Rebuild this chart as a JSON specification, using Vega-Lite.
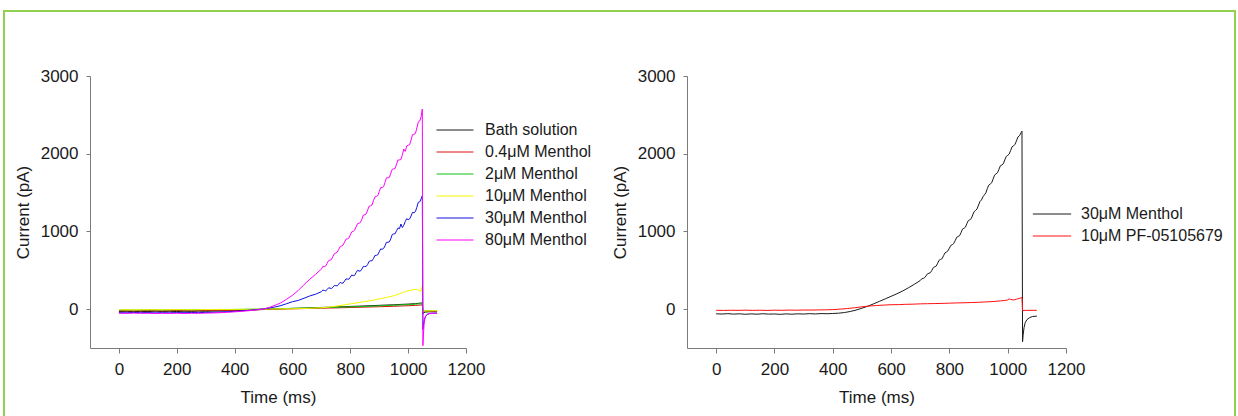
{
  "$schema": "https://vega.github.io/schema/vega-lite/v6.json",
  "width": 1231,
  "height": 410,
  "autosize": {"type": "none"},
  "padding": {"left": 4, "top": 11, "right": 3, "bottom": 0},
  "background": "white",
  "config": {
    "view": {"stroke": "#92D050", "strokeWidth": 2},
    "font": "Liberation Sans",
    "axis": {
      "grid": false,
      "domainColor": "#7a7a7a",
      "tickColor": "#7a7a7a",
      "domainWidth": 1,
      "tickWidth": 1,
      "labelFont": "Liberation Sans",
      "titleFont": "Liberation Sans",
      "labelFontSize": 17,
      "titleFontSize": 17,
      "titleFontWeight": "normal",
      "labelColor": "#1a1a1a",
      "titleColor": "#1a1a1a",
      "labelFlush": false,
      "labelOverlap": false,
      "format": "d"
    },
    "legend": {
      "labelFont": "Liberation Sans",
      "labelFontSize": 16,
      "labelColor": "#1a1a1a",
      "symbolType": "stroke",
      "symbolStrokeWidth": 1,
      "padding": 0,
      "rowPadding": 6,
      "clipHeight": 16,
      "title": null
    }
  },
  "datasets": {
    "left": [
      {"s":"Bath solution","t":0,"v":-30},{"s":"Bath solution","t":25,"v":-28},{"s":"Bath solution","t":50,"v":-32},{"s":"Bath solution","t":75,"v":-29},{"s":"Bath solution","t":100,"v":-31},{"s":"Bath solution","t":125,"v":-27},{"s":"Bath solution","t":150,"v":-30},{"s":"Bath solution","t":175,"v":-28},{"s":"Bath solution","t":200,"v":-31},{"s":"Bath solution","t":225,"v":-27},{"s":"Bath solution","t":250,"v":-29},{"s":"Bath solution","t":275,"v":-26},{"s":"Bath solution","t":300,"v":-28},{"s":"Bath solution","t":325,"v":-25},{"s":"Bath solution","t":350,"v":-24},{"s":"Bath solution","t":375,"v":-22},{"s":"Bath solution","t":400,"v":-20},{"s":"Bath solution","t":425,"v":-16},{"s":"Bath solution","t":450,"v":-12},{"s":"Bath solution","t":475,"v":-8},{"s":"Bath solution","t":500,"v":-4},{"s":"Bath solution","t":525,"v":0},{"s":"Bath solution","t":550,"v":3},{"s":"Bath solution","t":575,"v":7},{"s":"Bath solution","t":600,"v":10},{"s":"Bath solution","t":625,"v":12},{"s":"Bath solution","t":650,"v":15},{"s":"Bath solution","t":675,"v":19},{"s":"Bath solution","t":700,"v":22},{"s":"Bath solution","t":725,"v":24},{"s":"Bath solution","t":750,"v":28},{"s":"Bath solution","t":775,"v":31},{"s":"Bath solution","t":800,"v":35},{"s":"Bath solution","t":825,"v":38},{"s":"Bath solution","t":850,"v":42},{"s":"Bath solution","t":875,"v":45},{"s":"Bath solution","t":900,"v":49},{"s":"Bath solution","t":925,"v":53},{"s":"Bath solution","t":950,"v":56},{"s":"Bath solution","t":975,"v":61},{"s":"Bath solution","t":1000,"v":65},{"s":"Bath solution","t":1025,"v":71},{"s":"Bath solution","t":1049,"v":80},{"s":"Bath solution","t":1051,"v":-60},{"s":"Bath solution","t":1055,"v":-45},{"s":"Bath solution","t":1060,"v":-38},{"s":"Bath solution","t":1070,"v":-35},{"s":"Bath solution","t":1085,"v":-33},{"s":"Bath solution","t":1100,"v":-32},
      {"s":"0.4μM Menthol","t":0,"v":-20},{"s":"0.4μM Menthol","t":50,"v":-22},{"s":"0.4μM Menthol","t":100,"v":-19},{"s":"0.4μM Menthol","t":150,"v":-21},{"s":"0.4μM Menthol","t":200,"v":-18},{"s":"0.4μM Menthol","t":250,"v":-20},{"s":"0.4μM Menthol","t":300,"v":-17},{"s":"0.4μM Menthol","t":350,"v":-16},{"s":"0.4μM Menthol","t":400,"v":-14},{"s":"0.4μM Menthol","t":450,"v":-10},{"s":"0.4μM Menthol","t":500,"v":-5},{"s":"0.4μM Menthol","t":550,"v":0},{"s":"0.4μM Menthol","t":600,"v":4},{"s":"0.4μM Menthol","t":650,"v":8},{"s":"0.4μM Menthol","t":700,"v":12},{"s":"0.4μM Menthol","t":750,"v":16},{"s":"0.4μM Menthol","t":800,"v":21},{"s":"0.4μM Menthol","t":850,"v":26},{"s":"0.4μM Menthol","t":900,"v":31},{"s":"0.4μM Menthol","t":950,"v":37},{"s":"0.4μM Menthol","t":1000,"v":44},{"s":"0.4μM Menthol","t":1025,"v":48},{"s":"0.4μM Menthol","t":1049,"v":55},{"s":"0.4μM Menthol","t":1051,"v":-40},{"s":"0.4μM Menthol","t":1055,"v":-32},{"s":"0.4μM Menthol","t":1065,"v":-28},{"s":"0.4μM Menthol","t":1100,"v":-26},
      {"s":"2μM Menthol","t":0,"v":-10},{"s":"2μM Menthol","t":50,"v":-12},{"s":"2μM Menthol","t":100,"v":-9},{"s":"2μM Menthol","t":150,"v":-11},{"s":"2μM Menthol","t":200,"v":-8},{"s":"2μM Menthol","t":250,"v":-10},{"s":"2μM Menthol","t":300,"v":-7},{"s":"2μM Menthol","t":350,"v":-6},{"s":"2μM Menthol","t":400,"v":-4},{"s":"2μM Menthol","t":450,"v":-1},{"s":"2μM Menthol","t":500,"v":2},{"s":"2μM Menthol","t":550,"v":6},{"s":"2μM Menthol","t":600,"v":10},{"s":"2μM Menthol","t":650,"v":14},{"s":"2μM Menthol","t":700,"v":19},{"s":"2μM Menthol","t":750,"v":24},{"s":"2μM Menthol","t":800,"v":29},{"s":"2μM Menthol","t":850,"v":35},{"s":"2μM Menthol","t":900,"v":42},{"s":"2μM Menthol","t":950,"v":50},{"s":"2μM Menthol","t":1000,"v":58},{"s":"2μM Menthol","t":1025,"v":64},{"s":"2μM Menthol","t":1049,"v":72},{"s":"2μM Menthol","t":1051,"v":-30},{"s":"2μM Menthol","t":1055,"v":-24},{"s":"2μM Menthol","t":1065,"v":-21},{"s":"2μM Menthol","t":1100,"v":-20},
      {"s":"10μM Menthol","t":0,"v":-8},{"s":"10μM Menthol","t":50,"v":-10},{"s":"10μM Menthol","t":100,"v":-7},{"s":"10μM Menthol","t":150,"v":-9},{"s":"10μM Menthol","t":200,"v":-6},{"s":"10μM Menthol","t":250,"v":-8},{"s":"10μM Menthol","t":300,"v":-5},{"s":"10μM Menthol","t":350,"v":-4},{"s":"10μM Menthol","t":400,"v":-3},{"s":"10μM Menthol","t":450,"v":-1},{"s":"10μM Menthol","t":500,"v":1},{"s":"10μM Menthol","t":550,"v":3},{"s":"10μM Menthol","t":600,"v":5},{"s":"10μM Menthol","t":650,"v":9},{"s":"10μM Menthol","t":700,"v":18},{"s":"10μM Menthol","t":725,"v":26},{"s":"10μM Menthol","t":750,"v":38},{"s":"10μM Menthol","t":775,"v":52},{"s":"10μM Menthol","t":800,"v":68},{"s":"10μM Menthol","t":825,"v":82},{"s":"10μM Menthol","t":850,"v":98},{"s":"10μM Menthol","t":875,"v":112},{"s":"10μM Menthol","t":900,"v":132},{"s":"10μM Menthol","t":925,"v":150},{"s":"10μM Menthol","t":950,"v":172},{"s":"10μM Menthol","t":965,"v":190},{"s":"10μM Menthol","t":980,"v":212},{"s":"10μM Menthol","t":990,"v":222},{"s":"10μM Menthol","t":1000,"v":236},{"s":"10μM Menthol","t":1010,"v":244},{"s":"10μM Menthol","t":1020,"v":252},{"s":"10μM Menthol","t":1030,"v":256},{"s":"10μM Menthol","t":1038,"v":240},{"s":"10μM Menthol","t":1044,"v":228},{"s":"10μM Menthol","t":1049,"v":300},{"s":"10μM Menthol","t":1051,"v":-35},{"s":"10μM Menthol","t":1055,"v":-25},{"s":"10μM Menthol","t":1065,"v":-22},{"s":"10μM Menthol","t":1100,"v":-20},
      {"s":"30μM Menthol","t":0,"v":-45},{"s":"30μM Menthol","t":25,"v":-47},{"s":"30μM Menthol","t":50,"v":-43},{"s":"30μM Menthol","t":75,"v":-46},{"s":"30μM Menthol","t":100,"v":-44},{"s":"30μM Menthol","t":125,"v":-48},{"s":"30μM Menthol","t":150,"v":-45},{"s":"30μM Menthol","t":175,"v":-47},{"s":"30μM Menthol","t":200,"v":-44},{"s":"30μM Menthol","t":225,"v":-46},{"s":"30μM Menthol","t":250,"v":-43},{"s":"30μM Menthol","t":275,"v":-45},{"s":"30μM Menthol","t":300,"v":-42},{"s":"30μM Menthol","t":325,"v":-40},{"s":"30μM Menthol","t":350,"v":-37},{"s":"30μM Menthol","t":375,"v":-33},{"s":"30μM Menthol","t":400,"v":-28},{"s":"30μM Menthol","t":425,"v":-22},{"s":"30μM Menthol","t":450,"v":-14},{"s":"30μM Menthol","t":475,"v":-6},{"s":"30μM Menthol","t":500,"v":4},{"s":"30μM Menthol","t":520,"v":14},{"s":"30μM Menthol","t":540,"v":28},{"s":"30μM Menthol","t":560,"v":46},{"s":"30μM Menthol","t":580,"v":70},{"s":"30μM Menthol","t":600,"v":96},{"s":"30μM Menthol","t":620,"v":112},{"s":"30μM Menthol","t":640,"v":140},{"s":"30μM Menthol","t":660,"v":170},{"s":"30μM Menthol","t":680,"v":192},{"s":"30μM Menthol","t":700,"v":225},{"s":"30μM Menthol","t":705,"v":245},{"s":"30μM Menthol","t":710,"v":240},{"s":"30μM Menthol","t":715,"v":236},{"s":"30μM Menthol","t":720,"v":252},{"s":"30μM Menthol","t":725,"v":275},{"s":"30μM Menthol","t":730,"v":270},{"s":"30μM Menthol","t":735,"v":266},{"s":"30μM Menthol","t":740,"v":282},{"s":"30μM Menthol","t":745,"v":305},{"s":"30μM Menthol","t":750,"v":302},{"s":"30μM Menthol","t":755,"v":300},{"s":"30μM Menthol","t":760,"v":322},{"s":"30μM Menthol","t":765,"v":345},{"s":"30μM Menthol","t":770,"v":334},{"s":"30μM Menthol","t":775,"v":335},{"s":"30μM Menthol","t":780,"v":360},{"s":"30μM Menthol","t":785,"v":390},{"s":"30μM Menthol","t":790,"v":386},{"s":"30μM Menthol","t":795,"v":385},{"s":"30μM Menthol","t":800,"v":412},{"s":"30μM Menthol","t":805,"v":440},{"s":"30μM Menthol","t":810,"v":430},{"s":"30μM Menthol","t":815,"v":435},{"s":"30μM Menthol","t":820,"v":470},{"s":"30μM Menthol","t":825,"v":500},{"s":"30μM Menthol","t":830,"v":490},{"s":"30μM Menthol","t":835,"v":490},{"s":"30μM Menthol","t":840,"v":515},{"s":"30μM Menthol","t":845,"v":550},{"s":"30μM Menthol","t":850,"v":548},{"s":"30μM Menthol","t":855,"v":550},{"s":"30μM Menthol","t":860,"v":575},{"s":"30μM Menthol","t":865,"v":615},{"s":"30μM Menthol","t":870,"v":622},{"s":"30μM Menthol","t":875,"v":622},{"s":"30μM Menthol","t":880,"v":650},{"s":"30μM Menthol","t":885,"v":690},{"s":"30μM Menthol","t":890,"v":692},{"s":"30μM Menthol","t":895,"v":700},{"s":"30μM Menthol","t":900,"v":738},{"s":"30μM Menthol","t":905,"v":775},{"s":"30μM Menthol","t":910,"v":770},{"s":"30μM Menthol","t":915,"v":780},{"s":"30μM Menthol","t":920,"v":815},{"s":"30μM Menthol","t":925,"v":860},{"s":"30μM Menthol","t":930,"v":860},{"s":"30μM Menthol","t":935,"v":865},{"s":"30μM Menthol","t":940,"v":905},{"s":"30μM Menthol","t":945,"v":960},{"s":"30μM Menthol","t":950,"v":968},{"s":"30μM Menthol","t":955,"v":970},{"s":"30μM Menthol","t":960,"v":1010},{"s":"30μM Menthol","t":965,"v":1045},{"s":"30μM Menthol","t":970,"v":1035},{"s":"30μM Menthol","t":975,"v":1095},{"s":"30μM Menthol","t":980,"v":1050},{"s":"30μM Menthol","t":985,"v":1080},{"s":"30μM Menthol","t":990,"v":1128},{"s":"30μM Menthol","t":995,"v":1165},{"s":"30μM Menthol","t":1000,"v":1150},{"s":"30μM Menthol","t":1005,"v":1160},{"s":"30μM Menthol","t":1010,"v":1198},{"s":"30μM Menthol","t":1015,"v":1245},{"s":"30μM Menthol","t":1020,"v":1240},{"s":"30μM Menthol","t":1025,"v":1255},{"s":"30μM Menthol","t":1030,"v":1310},{"s":"30μM Menthol","t":1035,"v":1375},{"s":"30μM Menthol","t":1040,"v":1380},{"s":"30μM Menthol","t":1045,"v":1420},{"s":"30μM Menthol","t":1049,"v":1460},{"s":"30μM Menthol","t":1051,"v":-260},{"s":"30μM Menthol","t":1053,"v":-200},{"s":"30μM Menthol","t":1056,"v":-135},{"s":"30μM Menthol","t":1060,"v":-95},{"s":"30μM Menthol","t":1066,"v":-68},{"s":"30μM Menthol","t":1075,"v":-56},{"s":"30μM Menthol","t":1085,"v":-52},{"s":"30μM Menthol","t":1100,"v":-50},
      {"s":"80μM Menthol","t":0,"v":-52},{"s":"80μM Menthol","t":25,"v":-55},{"s":"80μM Menthol","t":50,"v":-51},{"s":"80μM Menthol","t":75,"v":-54},{"s":"80μM Menthol","t":100,"v":-52},{"s":"80μM Menthol","t":125,"v":-56},{"s":"80μM Menthol","t":150,"v":-53},{"s":"80μM Menthol","t":175,"v":-55},{"s":"80μM Menthol","t":200,"v":-52},{"s":"80μM Menthol","t":225,"v":-56},{"s":"80μM Menthol","t":250,"v":-53},{"s":"80μM Menthol","t":275,"v":-54},{"s":"80μM Menthol","t":300,"v":-51},{"s":"80μM Menthol","t":325,"v":-49},{"s":"80μM Menthol","t":350,"v":-46},{"s":"80μM Menthol","t":375,"v":-41},{"s":"80μM Menthol","t":400,"v":-35},{"s":"80μM Menthol","t":425,"v":-28},{"s":"80μM Menthol","t":450,"v":-20},{"s":"80μM Menthol","t":475,"v":-10},{"s":"80μM Menthol","t":500,"v":2},{"s":"80μM Menthol","t":520,"v":22},{"s":"80μM Menthol","t":540,"v":50},{"s":"80μM Menthol","t":560,"v":82},{"s":"80μM Menthol","t":580,"v":128},{"s":"80μM Menthol","t":600,"v":178},{"s":"80μM Menthol","t":620,"v":240},{"s":"80μM Menthol","t":640,"v":315},{"s":"80μM Menthol","t":660,"v":385},{"s":"80μM Menthol","t":680,"v":448},{"s":"80μM Menthol","t":700,"v":515},{"s":"80μM Menthol","t":705,"v":550},{"s":"80μM Menthol","t":710,"v":548},{"s":"80μM Menthol","t":715,"v":555},{"s":"80μM Menthol","t":720,"v":590},{"s":"80μM Menthol","t":725,"v":625},{"s":"80μM Menthol","t":730,"v":632},{"s":"80μM Menthol","t":735,"v":640},{"s":"80μM Menthol","t":740,"v":680},{"s":"80μM Menthol","t":745,"v":715},{"s":"80μM Menthol","t":750,"v":722},{"s":"80μM Menthol","t":755,"v":735},{"s":"80μM Menthol","t":760,"v":770},{"s":"80μM Menthol","t":765,"v":805},{"s":"80μM Menthol","t":770,"v":812},{"s":"80μM Menthol","t":775,"v":825},{"s":"80μM Menthol","t":780,"v":862},{"s":"80μM Menthol","t":785,"v":900},{"s":"80μM Menthol","t":790,"v":905},{"s":"80μM Menthol","t":795,"v":915},{"s":"80μM Menthol","t":800,"v":955},{"s":"80μM Menthol","t":805,"v":995},{"s":"80μM Menthol","t":810,"v":1000},{"s":"80μM Menthol","t":815,"v":1015},{"s":"80μM Menthol","t":820,"v":1058},{"s":"80μM Menthol","t":825,"v":1100},{"s":"80μM Menthol","t":830,"v":1105},{"s":"80μM Menthol","t":835,"v":1115},{"s":"80μM Menthol","t":840,"v":1158},{"s":"80μM Menthol","t":845,"v":1210},{"s":"80μM Menthol","t":850,"v":1215},{"s":"80μM Menthol","t":855,"v":1225},{"s":"80μM Menthol","t":860,"v":1275},{"s":"80μM Menthol","t":865,"v":1325},{"s":"80μM Menthol","t":870,"v":1330},{"s":"80μM Menthol","t":875,"v":1340},{"s":"80μM Menthol","t":880,"v":1395},{"s":"80μM Menthol","t":885,"v":1445},{"s":"80μM Menthol","t":890,"v":1450},{"s":"80μM Menthol","t":895,"v":1460},{"s":"80μM Menthol","t":900,"v":1512},{"s":"80μM Menthol","t":905,"v":1565},{"s":"80μM Menthol","t":910,"v":1565},{"s":"80μM Menthol","t":915,"v":1575},{"s":"80μM Menthol","t":920,"v":1630},{"s":"80μM Menthol","t":925,"v":1690},{"s":"80μM Menthol","t":930,"v":1690},{"s":"80μM Menthol","t":935,"v":1695},{"s":"80μM Menthol","t":940,"v":1750},{"s":"80μM Menthol","t":945,"v":1800},{"s":"80μM Menthol","t":950,"v":1805},{"s":"80μM Menthol","t":955,"v":1810},{"s":"80μM Menthol","t":960,"v":1868},{"s":"80μM Menthol","t":965,"v":1920},{"s":"80μM Menthol","t":970,"v":1920},{"s":"80μM Menthol","t":975,"v":1925},{"s":"80μM Menthol","t":980,"v":1985},{"s":"80μM Menthol","t":985,"v":2060},{"s":"80μM Menthol","t":990,"v":2030},{"s":"80μM Menthol","t":995,"v":2100},{"s":"80μM Menthol","t":1000,"v":2108},{"s":"80μM Menthol","t":1005,"v":2115},{"s":"80μM Menthol","t":1010,"v":2175},{"s":"80μM Menthol","t":1015,"v":2245},{"s":"80μM Menthol","t":1020,"v":2250},{"s":"80μM Menthol","t":1025,"v":2260},{"s":"80μM Menthol","t":1030,"v":2330},{"s":"80μM Menthol","t":1035,"v":2410},{"s":"80μM Menthol","t":1040,"v":2420},{"s":"80μM Menthol","t":1045,"v":2480},{"s":"80μM Menthol","t":1049,"v":2575},{"s":"80μM Menthol","t":1051,"v":-470},{"s":"80μM Menthol","t":1053,"v":-320},{"s":"80μM Menthol","t":1055,"v":-200},{"s":"80μM Menthol","t":1058,"v":-120},{"s":"80μM Menthol","t":1062,"v":-80},{"s":"80μM Menthol","t":1068,"v":-62},{"s":"80μM Menthol","t":1075,"v":-56},{"s":"80μM Menthol","t":1085,"v":-53},{"s":"80μM Menthol","t":1100,"v":-52}
    ],
    "right": [
      {"s":"30μM Menthol","t":0,"v":-60},{"s":"30μM Menthol","t":20,"v":-63},{"s":"30μM Menthol","t":40,"v":-58},{"s":"30μM Menthol","t":60,"v":-64},{"s":"30μM Menthol","t":80,"v":-60},{"s":"30μM Menthol","t":100,"v":-66},{"s":"30μM Menthol","t":120,"v":-61},{"s":"30μM Menthol","t":140,"v":-65},{"s":"30μM Menthol","t":160,"v":-59},{"s":"30μM Menthol","t":180,"v":-64},{"s":"30μM Menthol","t":200,"v":-62},{"s":"30μM Menthol","t":220,"v":-67},{"s":"30μM Menthol","t":240,"v":-61},{"s":"30μM Menthol","t":260,"v":-65},{"s":"30μM Menthol","t":280,"v":-60},{"s":"30μM Menthol","t":300,"v":-63},{"s":"30μM Menthol","t":320,"v":-58},{"s":"30μM Menthol","t":340,"v":-62},{"s":"30μM Menthol","t":360,"v":-57},{"s":"30μM Menthol","t":380,"v":-59},{"s":"30μM Menthol","t":400,"v":-56},{"s":"30μM Menthol","t":420,"v":-52},{"s":"30μM Menthol","t":440,"v":-44},{"s":"30μM Menthol","t":460,"v":-30},{"s":"30μM Menthol","t":480,"v":-12},{"s":"30μM Menthol","t":500,"v":12},{"s":"30μM Menthol","t":520,"v":38},{"s":"30μM Menthol","t":540,"v":68},{"s":"30μM Menthol","t":560,"v":100},{"s":"30μM Menthol","t":580,"v":132},{"s":"30μM Menthol","t":600,"v":165},{"s":"30μM Menthol","t":620,"v":198},{"s":"30μM Menthol","t":640,"v":234},{"s":"30μM Menthol","t":660,"v":276},{"s":"30μM Menthol","t":680,"v":320},{"s":"30μM Menthol","t":700,"v":368},{"s":"30μM Menthol","t":705,"v":390},{"s":"30μM Menthol","t":710,"v":395},{"s":"30μM Menthol","t":715,"v":405},{"s":"30μM Menthol","t":720,"v":428},{"s":"30μM Menthol","t":725,"v":455},{"s":"30μM Menthol","t":730,"v":462},{"s":"30μM Menthol","t":735,"v":470},{"s":"30μM Menthol","t":740,"v":500},{"s":"30μM Menthol","t":745,"v":535},{"s":"30μM Menthol","t":750,"v":545},{"s":"30μM Menthol","t":755,"v":555},{"s":"30μM Menthol","t":760,"v":592},{"s":"30μM Menthol","t":765,"v":630},{"s":"30μM Menthol","t":770,"v":640},{"s":"30μM Menthol","t":775,"v":650},{"s":"30μM Menthol","t":780,"v":688},{"s":"30μM Menthol","t":785,"v":725},{"s":"30μM Menthol","t":790,"v":735},{"s":"30μM Menthol","t":795,"v":750},{"s":"30μM Menthol","t":800,"v":785},{"s":"30μM Menthol","t":805,"v":820},{"s":"30μM Menthol","t":810,"v":830},{"s":"30μM Menthol","t":815,"v":845},{"s":"30μM Menthol","t":820,"v":882},{"s":"30μM Menthol","t":825,"v":925},{"s":"30μM Menthol","t":830,"v":935},{"s":"30μM Menthol","t":835,"v":945},{"s":"30μM Menthol","t":840,"v":985},{"s":"30μM Menthol","t":845,"v":1030},{"s":"30μM Menthol","t":850,"v":1040},{"s":"30μM Menthol","t":855,"v":1055},{"s":"30μM Menthol","t":860,"v":1100},{"s":"30μM Menthol","t":865,"v":1140},{"s":"30μM Menthol","t":870,"v":1150},{"s":"30μM Menthol","t":875,"v":1165},{"s":"30μM Menthol","t":880,"v":1212},{"s":"30μM Menthol","t":885,"v":1255},{"s":"30μM Menthol","t":890,"v":1270},{"s":"30μM Menthol","t":895,"v":1290},{"s":"30μM Menthol","t":900,"v":1340},{"s":"30μM Menthol","t":905,"v":1385},{"s":"30μM Menthol","t":910,"v":1405},{"s":"30μM Menthol","t":915,"v":1445},{"s":"30μM Menthol","t":920,"v":1470},{"s":"30μM Menthol","t":925,"v":1495},{"s":"30μM Menthol","t":930,"v":1550},{"s":"30μM Menthol","t":935,"v":1595},{"s":"30μM Menthol","t":940,"v":1610},{"s":"30μM Menthol","t":945,"v":1625},{"s":"30μM Menthol","t":950,"v":1675},{"s":"30μM Menthol","t":955,"v":1725},{"s":"30μM Menthol","t":960,"v":1740},{"s":"30μM Menthol","t":965,"v":1755},{"s":"30μM Menthol","t":970,"v":1800},{"s":"30μM Menthol","t":975,"v":1845},{"s":"30μM Menthol","t":980,"v":1855},{"s":"30μM Menthol","t":985,"v":1870},{"s":"30μM Menthol","t":990,"v":1920},{"s":"30μM Menthol","t":995,"v":1965},{"s":"30μM Menthol","t":1000,"v":1978},{"s":"30μM Menthol","t":1005,"v":1995},{"s":"30μM Menthol","t":1010,"v":2040},{"s":"30μM Menthol","t":1015,"v":2090},{"s":"30μM Menthol","t":1020,"v":2100},{"s":"30μM Menthol","t":1025,"v":2120},{"s":"30μM Menthol","t":1030,"v":2165},{"s":"30μM Menthol","t":1035,"v":2215},{"s":"30μM Menthol","t":1040,"v":2230},{"s":"30μM Menthol","t":1046,"v":2270},{"s":"30μM Menthol","t":1049,"v":2290},{"s":"30μM Menthol","t":1051,"v":-420},{"s":"30μM Menthol","t":1053,"v":-330},{"s":"30μM Menthol","t":1056,"v":-240},{"s":"30μM Menthol","t":1060,"v":-175},{"s":"30μM Menthol","t":1066,"v":-135},{"s":"30μM Menthol","t":1075,"v":-110},{"s":"30μM Menthol","t":1085,"v":-95},{"s":"30μM Menthol","t":1100,"v":-90},
      {"s":"10μM PF-05105679","t":0,"v":-15},{"s":"10μM PF-05105679","t":25,"v":-17},{"s":"10μM PF-05105679","t":50,"v":-14},{"s":"10μM PF-05105679","t":75,"v":-16},{"s":"10μM PF-05105679","t":100,"v":-13},{"s":"10μM PF-05105679","t":125,"v":-16},{"s":"10μM PF-05105679","t":150,"v":-14},{"s":"10μM PF-05105679","t":175,"v":-17},{"s":"10μM PF-05105679","t":200,"v":-13},{"s":"10μM PF-05105679","t":225,"v":-15},{"s":"10μM PF-05105679","t":250,"v":-12},{"s":"10μM PF-05105679","t":275,"v":-14},{"s":"10μM PF-05105679","t":300,"v":-11},{"s":"10μM PF-05105679","t":325,"v":-12},{"s":"10μM PF-05105679","t":350,"v":-10},{"s":"10μM PF-05105679","t":375,"v":-9},{"s":"10μM PF-05105679","t":400,"v":-6},{"s":"10μM PF-05105679","t":425,"v":0},{"s":"10μM PF-05105679","t":450,"v":8},{"s":"10μM PF-05105679","t":475,"v":18},{"s":"10μM PF-05105679","t":500,"v":30},{"s":"10μM PF-05105679","t":525,"v":40},{"s":"10μM PF-05105679","t":550,"v":47},{"s":"10μM PF-05105679","t":575,"v":52},{"s":"10μM PF-05105679","t":600,"v":57},{"s":"10μM PF-05105679","t":625,"v":58},{"s":"10μM PF-05105679","t":650,"v":62},{"s":"10μM PF-05105679","t":675,"v":64},{"s":"10μM PF-05105679","t":700,"v":68},{"s":"10μM PF-05105679","t":725,"v":70},{"s":"10μM PF-05105679","t":750,"v":72},{"s":"10μM PF-05105679","t":775,"v":74},{"s":"10μM PF-05105679","t":800,"v":77},{"s":"10μM PF-05105679","t":825,"v":80},{"s":"10μM PF-05105679","t":850,"v":82},{"s":"10μM PF-05105679","t":875,"v":85},{"s":"10μM PF-05105679","t":900,"v":88},{"s":"10μM PF-05105679","t":925,"v":93},{"s":"10μM PF-05105679","t":950,"v":98},{"s":"10μM PF-05105679","t":975,"v":106},{"s":"10μM PF-05105679","t":990,"v":112},{"s":"10μM PF-05105679","t":1000,"v":118},{"s":"10μM PF-05105679","t":1005,"v":132},{"s":"10μM PF-05105679","t":1010,"v":125},{"s":"10μM PF-05105679","t":1020,"v":118},{"s":"10μM PF-05105679","t":1030,"v":128},{"s":"10μM PF-05105679","t":1040,"v":138},{"s":"10μM PF-05105679","t":1049,"v":150},{"s":"10μM PF-05105679","t":1051,"v":-18},{"s":"10μM PF-05105679","t":1060,"v":-16},{"s":"10μM PF-05105679","t":1100,"v":-15}
    ]
  },
  "layer": [
    {
      "data": {"name": "left"},
      "mark": {"type": "line", "strokeWidth": 1},
      "encoding": {
        "x": {
          "field": "t", "type": "quantitative",
          "scale": {"domain": [-100, 1200], "range": [86, 462], "nice": false, "zero": false},
          "axis": {"orient": "bottom", "offset": -73, "values": [0, 200, 400, 600, 800, 1000, 1200], "title": "Time (ms)", "tickSize": 5, "labelPadding": 8, "titlePadding": 12}
        },
        "y": {
          "field": "v", "type": "quantitative",
          "scale": {"domain": [-500, 3000], "range": [337, 65], "nice": false, "zero": false},
          "axis": {"orient": "left", "offset": -86, "values": [0, 1000, 2000, 3000], "title": "Current (pA)", "tickSize": 4, "labelPadding": 8, "titlePadding": 8}
        },
        "color": {
          "field": "s", "type": "nominal",
          "scale": {
            "domain": ["Bath solution", "0.4μM Menthol", "2μM Menthol", "10μM Menthol", "30μM Menthol", "80μM Menthol"],
            "range": ["#1a1a1a", "#d81010", "#10c010", "#f5f500", "#1010e0", "#ff00ff"]
          },
          "legend": {"orient": "none", "legendX": 432, "legendY": 111, "symbolSize": 1369, "labelOffset": 11}
        }
      }
    },
    {
      "data": {"name": "right"},
      "mark": {"type": "line", "strokeWidth": 1},
      "encoding": {
        "x": {
          "field": "t", "type": "quantitative",
          "scale": {"domain": [-100, 1200], "range": [683, 1062], "nice": false, "zero": false},
          "axis": {"orient": "bottom", "offset": -73, "values": [0, 200, 400, 600, 800, 1000, 1200], "title": "Time (ms)", "tickSize": 5, "labelPadding": 8, "titlePadding": 12}
        },
        "y": {
          "field": "v", "type": "quantitative",
          "scale": {"domain": [-500, 3000], "range": [337, 65], "nice": false, "zero": false},
          "axis": {"orient": "left", "offset": -683, "values": [0, 1000, 2000, 3000], "title": "Current (pA)", "tickSize": 4, "labelPadding": 8, "titlePadding": 8}
        },
        "color": {
          "field": "s", "type": "nominal",
          "scale": {
            "domain": ["30μM Menthol", "10μM PF-05105679"],
            "range": ["#1a1a1a", "#ff1010"]
          },
          "legend": {"orient": "none", "legendX": 1028, "legendY": 195, "symbolSize": 1467, "labelOffset": 9}
        }
      }
    }
  ],
  "resolve": {
    "scale": {"x": "independent", "y": "independent", "color": "independent"},
    "axis": {"x": "independent", "y": "independent"},
    "legend": {"color": "independent"}
  }
}
